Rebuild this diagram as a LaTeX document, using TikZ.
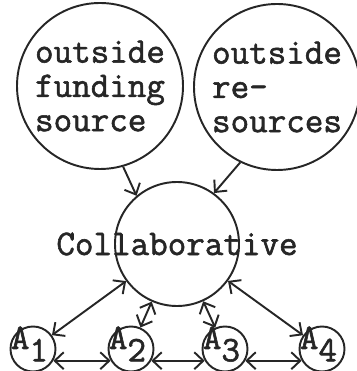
\documentclass[tikz,border=0pt]{standalone}
\usepackage{fontspec}
\setmonofont{Latin Modern Mono}[FakeBold=1.6]
\usetikzlibrary{arrows.meta}
\colorlet{ink}{black!85}

\begin{document}
\begin{tikzpicture}[
    source/.style={circle,draw=ink,line width=1.1pt,minimum size=3.32cm,inner sep=0pt,align=left,text=ink,font=\ttfamily\fontsize{20.5}{19.5}\selectfont},
    hub/.style={circle,draw=ink,line width=1.1pt,minimum size=2.48cm,inner sep=0pt,text=ink,font=\ttfamily\fontsize{20.5}{18}\selectfont},
    agent/.style={circle,draw=ink,line width=1.1pt,minimum size=0.9cm,inner sep=0pt,text=ink,font=\ttfamily\fontsize{20.5}{18}\selectfont},
    arr/.style={-{Straight Barb[length=1.8mm,width=3.4mm]},line width=1.1pt,draw=ink},
    link/.style={{Straight Barb[length=1.8mm,width=3.4mm]}-{Straight Barb[length=1.8mm,width=3.4mm]},line width=1.1pt,draw=ink}]
   \useasboundingbox (0,0) rectangle (7.12,7.42);
   \node[source] (fund) at (2.00,5.70) {outside\\funding\\source};
   \node[source] (res)  at (5.54,5.68) {outside\\re-\\sources};
   \node[hub]    (col)  at (3.54,2.54) {\makebox[0pt]{Collaborative}};
   \node[agent]  (a1) at (0.66,0.44) {\smash{\makebox[0pt]{\hspace{-4pt}A\raisebox{-7pt}{1}}}};
   \node[agent]  (a2) at (2.62,0.44) {\smash{\makebox[0pt]{\hspace{-4pt}A\raisebox{-7pt}{2}}}};
   \node[agent]  (a3) at (4.50,0.44) {\smash{\makebox[0pt]{\hspace{-4pt}A\raisebox{-7pt}{3}}}};
   \node[agent]  (a4) at (6.44,0.44) {\smash{\makebox[0pt]{\hspace{-4pt}A\raisebox{-7pt}{4}}}};
   % inflows from the two outside sources
   \draw[arr] (fund.-74) -- (col.130);
   \draw[arr] (res.-116) -- (col.54);
   % hub to each agent
   \draw[link] (col) -- (a1);
   \draw[link] (col) -- (a2);
   \draw[link] (col) -- (a3);
   \draw[link] (col) -- (a4);
   % agents along the bottom row
   \draw[link] (a1.-30) -- (a2.210);
   \draw[link] (a2.-30) -- (a3.210);
   \draw[link] (a3.-30) -- (a4.210);
  \end{tikzpicture}
\end{document}
